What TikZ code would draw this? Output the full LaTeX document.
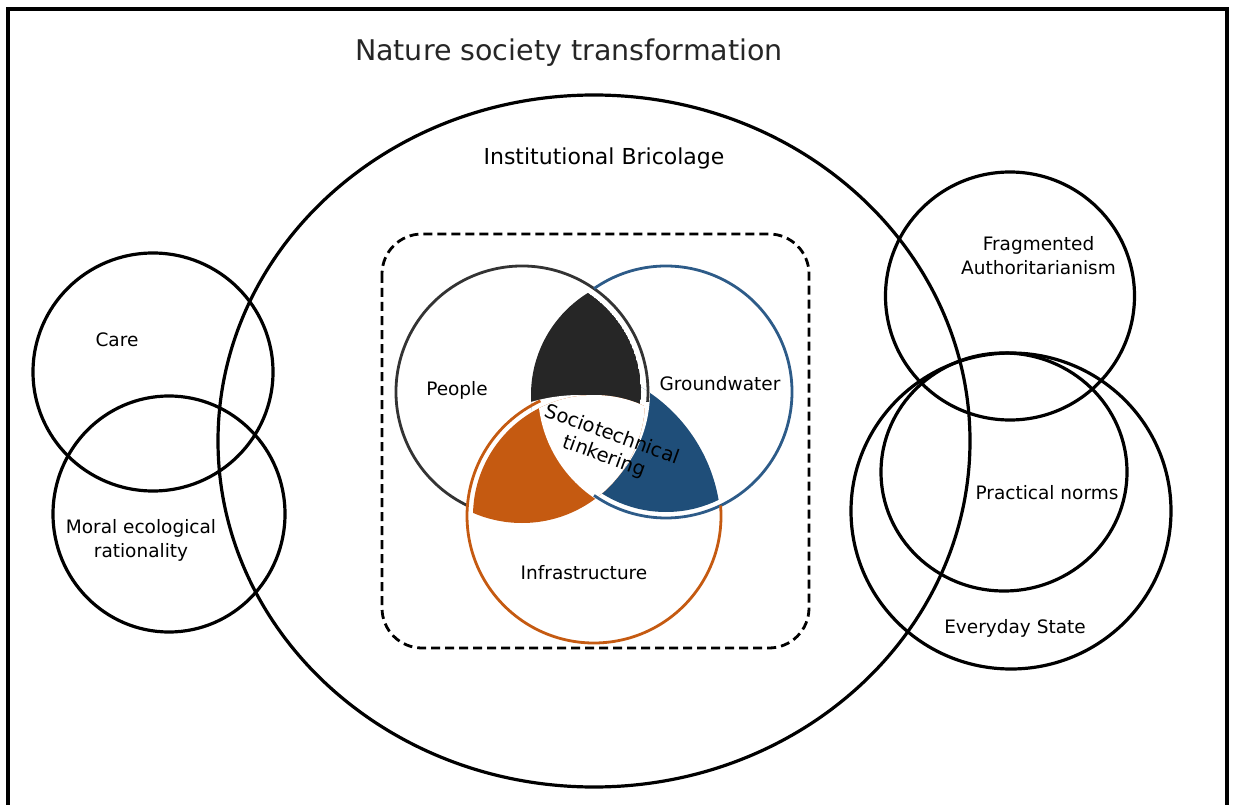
\documentclass[tikz,border=0pt]{standalone}
\usepackage{fontspec}
\setmainfont{DejaVu Sans}
\definecolor{darkfill}{HTML}{262626}
\definecolor{bluefill}{HTML}{1F4E79}
\definecolor{orangefill}{HTML}{C55A11}
\definecolor{pline}{HTML}{333333}
\definecolor{gline}{HTML}{2D5B88}
\definecolor{iline}{HTML}{C55A11}
\definecolor{titlegray}{HTML}{262626}
\begin{document}
\begin{tikzpicture}[x=1pt,y=-1pt,
  ring/.style={line width=3.2pt, draw=black},
  vline/.style={line width=2.8pt},
  lbl/.style={font=\fontsize{18.5}{24}\selectfont, text=black, inner sep=0pt, align=center}]
\useasboundingbox (0,0) rectangle (1235,805);

% open frame
\draw[line width=4pt] (8,812) -- (8,9) -- (1227,9) -- (1227,812);

% outer circles
\draw[ring] (594,441) ellipse[x radius=376, y radius=346];
\draw[ring] (153,372) ellipse[x radius=120, y radius=119];
\draw[ring] (169,514) ellipse[x radius=116, y radius=118];
\draw[ring] (1010,296) ellipse[x radius=124.5, y radius=124];
\draw[ring] (1004,472) ellipse[x radius=123, y radius=119];
\draw[ring] (1011,511) ellipse[x radius=160, y radius=158];

% dashed frame round the Venn diagram
\draw[line width=2.8pt, dash pattern=on 9pt off 5pt, rounded corners=40pt]
  (382,234) rectangle (809,648);

% Groundwater / Infrastructure overlap
\begin{scope}
  \clip (666,392) circle[radius=120];
  \clip (557,528) circle[radius=164];
  \fill[bluefill] (666,392) circle[radius=120];
  \fill[white] (522,392) circle[radius=128];
\end{scope}
% People / Groundwater overlap
\begin{scope}
  \clip (522,392) circle[radius=119];
  \clip (651,395) circle[radius=120];
  \fill[darkfill] (522,392) circle[radius=119];
  \fill[white] (580,570) circle[radius=175];
\end{scope}
% People / Infrastructure overlap
\begin{scope}
  \clip (594,516) circle[radius=121];
  \clip (522,400) circle[radius=123];
  \fill[orangefill] (594,516) circle[radius=121];
  \fill[white] (666,392) circle[radius=128];
\end{scope}

% Venn outlines, each hidden where it runs under the next circle
\draw[pline, vline] (522,392) ++(115.5:126) arc[start angle=115.5, end angle=364.5, radius=126];
\draw[gline, vline] (666,392) ++(235.15:126) arc[start angle=235.15, end angle=484.85, radius=126];
\draw[iline, vline] (594,516) ++(-4.74:127) arc[start angle=-4.74, end angle=245.03, radius=127];

% labels
\node[font=\fontsize{28.5}{32}\selectfont, text=titlegray, inner sep=0pt] (title) at (569,53) {Nature society transformation};
\node[font=\fontsize{22}{26}\selectfont, inner sep=0pt] (bricolage) at (604,158) {Institutional Bricolage};
\node[lbl] (care) at (117,340) {Care};
\node[lbl] (moral) at (141,540) {Moral ecological\\rationality};
\node[lbl] (people) at (457,390) {People};
\node[lbl] (groundwater) at (720,384) {Groundwater};
\node[lbl] (infra) at (584,573) {Infrastructure};
\node[lbl, font=\fontsize{19.5}{23}\selectfont, rotate=-20] (tinker) at (608,446) {Sociotechnical\\tinkering};
\node[lbl] (frag) at (1038.5,256) {Fragmented\\Authoritarianism};
\node[lbl] (practical) at (1047,493) {Practical norms};
\node[lbl] (everyday) at (1015,628) {Everyday State};
\end{tikzpicture}
\end{document}
